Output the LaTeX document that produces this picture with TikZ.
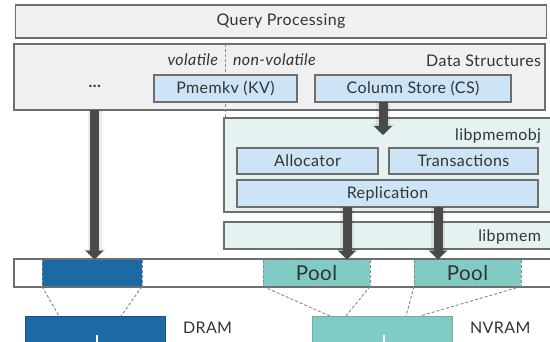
\documentclass[tikz,border=0pt]{standalone}
\usepackage{fontspec}
\setmainfont[LetterSpace=2.5]{Lato}
\usetikzlibrary{arrows.meta}
\definecolor{boxfill}{HTML}{F0F0F0}
\definecolor{boxline}{HTML}{6E6E6E}
\definecolor{bluefill}{HTML}{CCE4F6}
\definecolor{libfill}{HTML}{E4F2F2}
\definecolor{dramblue}{HTML}{1C69A4}
\definecolor{nvteal}{HTML}{80CBC4}
\definecolor{arrowgray}{HTML}{4A4A4A}
\definecolor{txt}{HTML}{333333}
\begin{document}
\begin{tikzpicture}[x=1pt,y=-1pt,
  every node/.style={inner sep=0pt, outer sep=0pt, text=txt},
  graybox/.style={draw=boxline, line width=1.1pt, fill=boxfill, font=\fontsize{16}{19}\selectfont},
  bluebox/.style={draw=boxline, line width=1.1pt, fill=bluefill, font=\fontsize{16}{19}\selectfont},
  libbox/.style={draw=boxline, line width=1.1pt, fill=libfill},
  lbl/.style={font=\fontsize{16}{19}\selectfont},
  ilbl/.style={font=\fontsize{16}{19}\selectfont\itshape},
  seg/.style={fill=#1, draw=none},
  segedge/.style={draw=boxline!80, line width=0.8pt, dash pattern=on 3pt off 2pt},
  mapline/.style={draw=boxline!90, line width=0.8pt, dash pattern=on 3pt off 2pt},
  bigarrow/.style={draw=arrowgray, line width=9pt, -{Triangle[width=18pt,length=9pt]},
    preaction={draw=black, opacity=0.08, line width=14pt, -{Triangle[width=23pt,length=11pt]}}},
]
\useasboundingbox (0,0) rectangle (550,341);
\clip (0,0) rectangle (550,341);
\fill[white] (0,0) rectangle (550,341);

% Query processing
\node[graybox, minimum width=531pt, minimum height=33pt] (qp) at (281,21.5) {Query Processing};
\path[draw=boxline, line width=1.1pt] (qp.north west) rectangle (qp.south east);
% Data structures
\node[graybox, minimum width=531pt, minimum height=66pt] (ds) at (279.5,77) {};
\node[ilbl, anchor=base east] (vol) at (218,65) {volatile};
\node[ilbl, anchor=base west] (nvol) at (233,65) {non-volatile};
\node[lbl, anchor=base east] (dslbl) at (541,66) {Data Structures};
\node[lbl] (dots) at (95,86) {\textbf{...}};

% libpmemobj
\node[libbox, minimum width=332pt, minimum height=94pt] (obj) at (390,165) {};
\node[lbl, anchor=base east] (objlbl) at (541,140) {libpmemobj};
\node[bluebox, minimum width=141pt, minimum height=26pt] (alloc) at (307.5,161) {Allocator};
\node[bluebox, minimum width=149pt, minimum height=26pt] (trans) at (463.5,161) {Transactions};
\node[bluebox, minimum width=301pt, minimum height=27pt] (rep) at (387.5,193.5) {Replication};

% libpmem
\node[libbox, minimum width=332pt, minimum height=27pt] (pm) at (390,235.5) {};
\node[lbl, anchor=base east] (pmlbl) at (541,241) {libpmem};

% dashed divider
\draw[segedge] (225,44) -- (obj.north -| 225,0);

% data structure boxes
\node[bluebox, minimum width=143pt, minimum height=27pt] (kv) at (225.5,88.5) {Pmemkv (KV)};
\node[bluebox, minimum width=196pt, minimum height=27pt] (cs) at (413,88.5) {Column Store (CS)};

% address bar
\node[draw=boxline, line width=1.1pt, fill=white, minimum width=542pt, minimum height=28pt] (bar) at (285,273) {};
\node[seg=dramblue, minimum width=100pt, minimum height=27pt] (dramseg) at (92,273) {};
\node[seg=nvteal, minimum width=107pt, minimum height=27pt, font=\fontsize{20.5}{24}\selectfont] (pool1) at (316.5,273) {Pool};
\node[seg=nvteal, minimum width=107pt, minimum height=27pt, font=\fontsize{20.5}{24}\selectfont] (pool2) at (467.5,273) {Pool};
\draw[boxline, line width=1.1pt] (bar.north west) -- (bar.north east) (bar.south west) -- (bar.south east);
\foreach \s in {dramseg,pool1,pool2}{
  \draw[segedge] (\s.north west) -- (\s.south west);
  \draw[segedge] (\s.north east) -- (\s.south east);
}

% memory boxes
\node[draw=dramblue!80!black, line width=0.8pt, fill=dramblue, minimum width=140pt, minimum height=34pt] (dram) at (95,333) {};
\node[draw=nvteal!85!black, line width=0.8pt, fill=nvteal, minimum width=140pt, minimum height=34pt] (nvram) at (382,333) {};
\draw[white, line width=2pt] (97,335) -- (dram.south -| 97,0);
\draw[white, line width=2pt] (384,335) -- (nvram.south -| 384,0);
\node[lbl, anchor=base west] (dramlbl) at (183,333) {DRAM};
\node[lbl, anchor=base west] (nvlbl) at (470,333) {NVRAM};

% mapping lines
\draw[mapline] (dramseg.south west) -- (dram.north -| 59,0);
\draw[mapline] (dramseg.south east) -- (dram.north -| 121,0);
\draw[mapline] (pool1.south west) -- (nvram.north -| 330,0);
\draw[mapline] (pool1.south east) -- (nvram.north -| 346,0);
\draw[mapline] (pool2.south west) -- (nvram.north -| 406,0);
\draw[mapline] (pool2.south east) -- (nvram.north -| 420,0);

% arrows
\coordinate (x1) at (94.5,0);
\coordinate (x2) at (383,0);
\coordinate (x3) at (347,0);
\coordinate (x4) at (438,0);
\draw[bigarrow] (ds.south -| x1) -- (dramseg.north -| x1);
\draw[bigarrow] (cs.south -| x2) -- (383,135);
\draw[bigarrow] (rep.south -| x3) -- (pool1.north -| x3);
\draw[bigarrow] (rep.south -| x4) -- (pool2.north -| x4);
\end{tikzpicture}
\end{document}
